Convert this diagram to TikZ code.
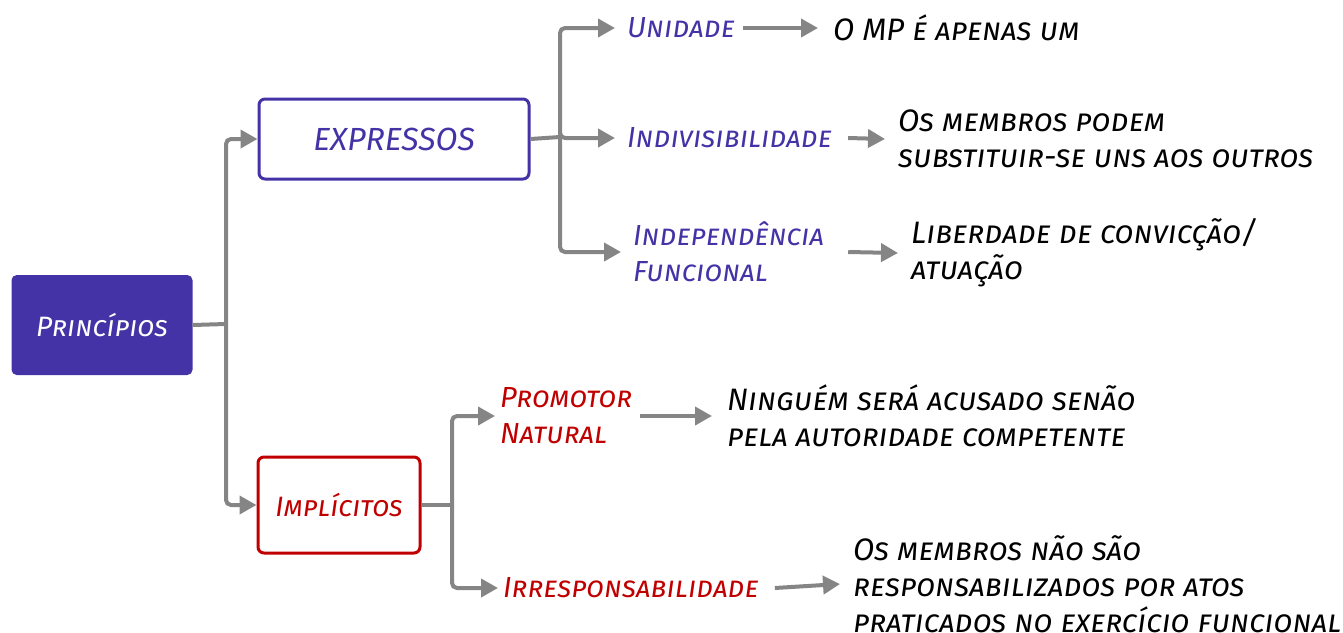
\documentclass[tikz,border=0pt]{standalone}
\usepackage{fontspec}
\setmainfont{Fira Sans}
\usetikzlibrary{arrows.meta}
\definecolor{pur}{HTML}{4333A6}
\definecolor{rd}{HTML}{C00000}
\definecolor{gr}{HTML}{858585}
\begin{document}
\begin{tikzpicture}[x=1pt,y=-1pt,
  txt/.style={font=\fontsize{29}{36}\selectfont\itshape\scshape, align=left, anchor=west, inner sep=0pt},
  ptxt/.style={txt, text=pur},
  rtxt/.style={txt, text=rd},
  btxt/.style={txt, text=black, font=\fontsize{31}{36}\selectfont\itshape\scshape},
  arr/.style={draw=gr, line width=4pt, rounded corners=5pt, -{Triangle[length=17pt,width=18pt]}},
  ln/.style={draw=gr, line width=4pt, rounded corners=5pt},
  box/.style={draw, line width=3pt, rounded corners=6pt, fill=white, font=\fontsize{28}{36}\selectfont\itshape\scshape, inner sep=0pt}]
\useasboundingbox (0,0) rectangle (1343,632);
% main boxes
\node[box, draw=pur, fill=pur, text=white, rounded corners=4pt, minimum width=178pt, minimum height=97pt] (prin) at (102,325) {Princípios};
\node[box, draw=pur, text=pur, font=\fontsize{32}{36}\selectfont\itshape, minimum width=270pt, minimum height=80pt] (expr) at (394,139) {EXPRESSOS};
\node[box, draw=rd, text=rd, minimum width=162pt, minimum height=96pt] (impl) at (339,505) {Implícitos};
% level 2 texts
\node[ptxt] (uni) at (627,28) {Unidade};
\node[ptxt] (indiv) at (627,138) {Indivisibilidade};
\node[ptxt] (indep) at (633,252) {Independência\\Funcional};
\node[rtxt] (prom) at (500,416) {Promotor\\Natural};
\node[rtxt] (irr) at (503,588) {Irresponsabilidade};
% level 3 texts
\node[btxt] (d1) at (833,28) {O MP é apenas um};
\node[btxt] (d2) at (898,139) {Os membros podem\\substituir-se uns aos outros};
\node[btxt] (d3) at (911,253) {Liberdade de convicção/\\atuação};
\node[btxt] (d4) at (727,416) {Ninguém será acusado senão\\pela autoridade competente};
\node[btxt] (d5) at (853,584) {Os membros não são\\responsabilizados por atos\\praticados no exercício funcional};
% trunks
\coordinate (t1) at (226,324);
\coordinate (t2) at (560,137);
\coordinate (t3) at (452,505);
\draw[ln] (prin.east) -- (t1);
\draw[arr] (t1) |- (expr.west);
\draw[arr] (t1) |- (impl.west);
\draw[ln] (expr.east) -- (t2);
\draw[arr] (t2) |- ([xshift=-12pt]uni.west);
\draw[arr] (t2) |- ([xshift=-12pt]indiv.west);
\draw[arr] (t2) |- ([xshift=-12pt]indep.west);
\draw[ln] (impl.east) -- (t3);
\draw[arr] (t3) |- ([xshift=-5pt]prom.west);
\draw[arr] (t3) |- ([xshift=-5pt]irr.west);
% detail arrows
\draw[arr] ([xshift=8pt]uni.east) -- ([xshift=-15pt]d1.west);
\draw[arr] ([xshift=16pt]indiv.east) -- ([xshift=-13pt]d2.west);
\draw[arr] ([xshift=24pt]indep.east) -- ([xshift=-13pt]d3.west);
\draw[arr] ([xshift=8pt]prom.east) -- ([xshift=-15pt]d4.west);
\draw[arr] ([xshift=16pt]irr.east) -- ([xshift=-13pt]d5.west);
\end{tikzpicture}
\end{document}
